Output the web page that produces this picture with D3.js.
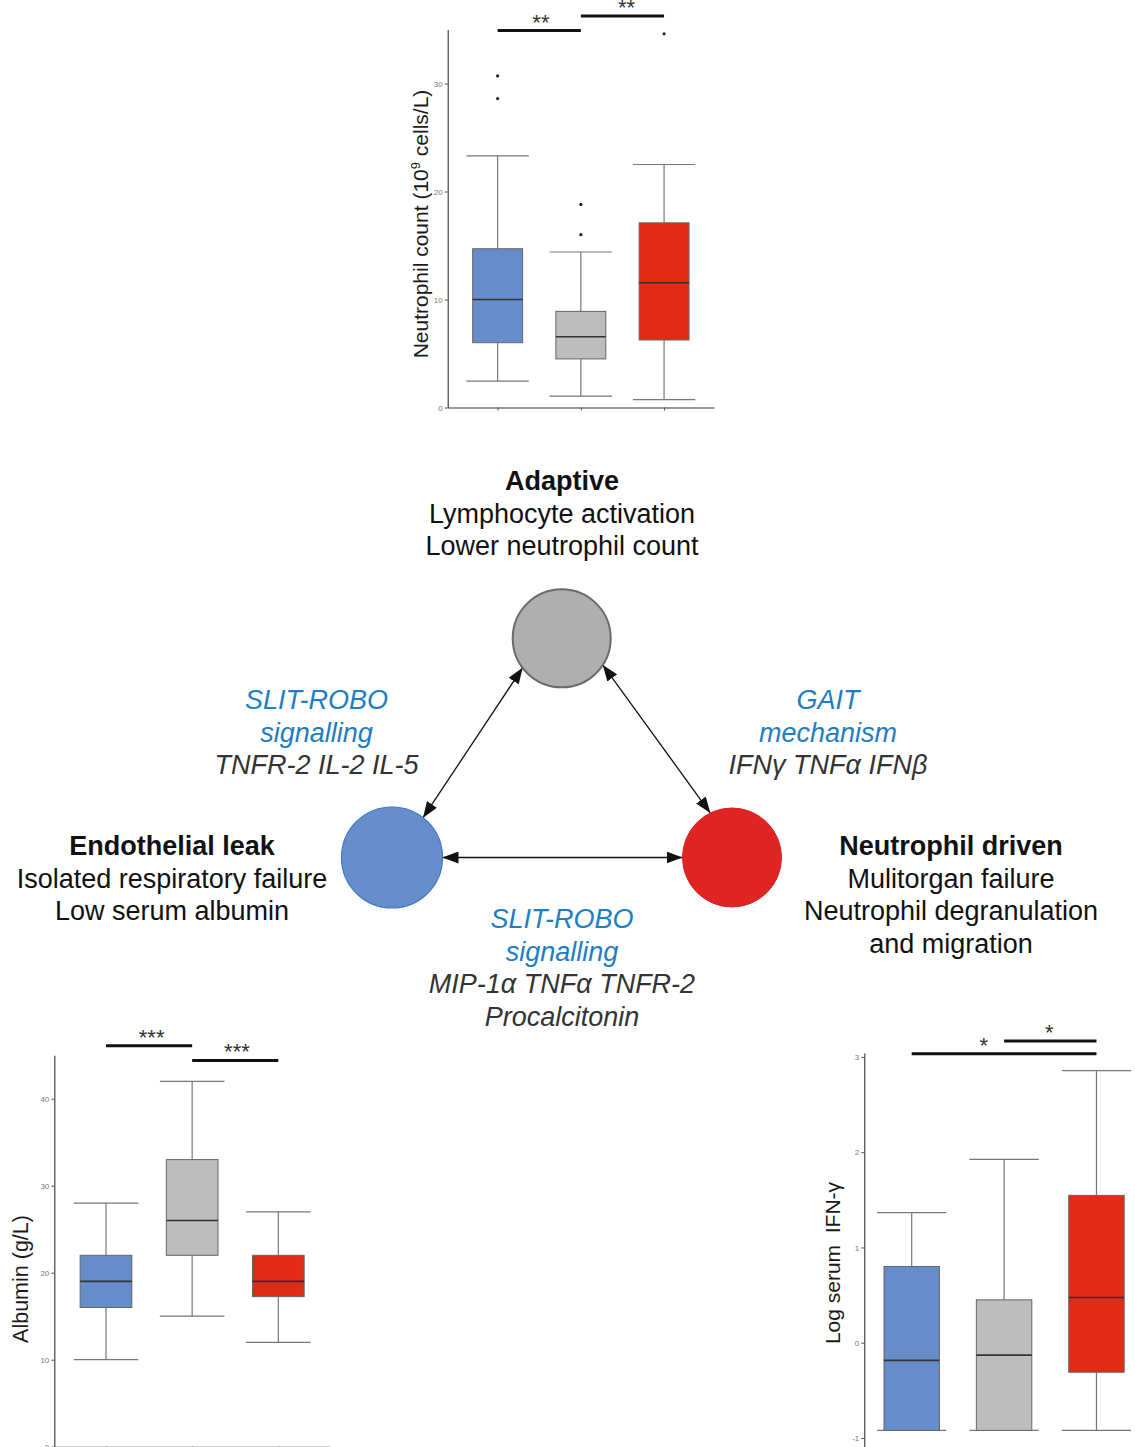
<!DOCTYPE html>
<html>
<head>
<meta charset="utf-8">
<script src="https://cdn.jsdelivr.net/npm/d3@7/dist/d3.min.js"></script>
<style>
  html, body { margin: 0; padding: 0; background: #fff; }
  svg { display: block; }
</style>
</head>
<body>
<div id="chart"></div>
<script>
// ── data ────────────────────────────────────────────────────────────────────
const groups = ['Endothelial leak', 'Adaptive', 'Neutrophil driven'];
const boxColors = ['#668dca', '#bdbdbd', '#e22b15'];

// box stats per group: [whiskerLow, q1, median, q3, whiskerHigh]
const neutroBoxes = [[2.45, 6.0, 10.0, 14.7, 23.3], [1.05, 4.5, 6.55, 8.9, 14.4], [0.72, 6.25, 11.55, 17.1, 22.5]];
const neutroOutliers = [[1, 30.7], [1, 28.6], [2, 18.8], [2, 16.0], [3, 34.6]];
const neutroTicks = [0, 10, 20, 30];
const neutroSig = [
  { from: 1, to: 2, y: 34.9, label: '**', lx: 1.52 },
  { from: 2, to: 3, y: 36.25, label: '**', lx: 2.55 },
];

const albBoxes = [[10, 16, 19, 22, 28], [15, 22, 26, 33, 42], [12, 17.25, 19, 22, 27]];
const albTicks = [0, 10, 20, 30, 40];
const albSig = [
  { from: 1, to: 2, y: 46.1, label: '***', lx: 1.53 },
  { from: 2, to: 3, y: 44.4, label: '***', lx: 2.52 },
];

const ifnBoxes = [[-0.92, -0.92, -0.185, 0.8, 1.365], [-0.92, -0.92, -0.13, 0.45, 1.925], [-0.92, -0.31, 0.475, 1.547, 2.855]];
const ifnTicks = [-1, 0, 1, 2, 3];
const ifnSig = [
  { from: 1, to: 3, y: 3.034, label: '*', lx: 1.78 },
  { from: 2, to: 3, y: 3.167, label: '*', lx: 2.49 },
];

// diagram
const nodes = [
  { id: 'adaptive', cx: 561.7, cy: 638.3, r: 49, fill: '#afafaf', stroke: '#6a6a6a', sw: 2 },
  { id: 'endo', cx: 392, cy: 857.5, r: 50.5, fill: '#678ecb', stroke: '#3d7bc6', sw: 1.2 },
  { id: 'neutro', cx: 732, cy: 857.5, r: 49.5, fill: '#e02424', stroke: '#d82020', sw: 1 },
];
// edges: endpoints given as angle (deg) on each node's rim
const edges = [
  { a: 'endo', aa: -52, b: 'adaptive', ba: 143 },
  { a: 'adaptive', aa: 33, b: 'neutro', ba: -116 },
  { a: 'endo', aa: 0, b: 'neutro', ba: 180 },
];

const FONT = '"Liberation Sans", Arial, Helvetica, sans-serif';
const BLUE_TXT = '#1f7dc2';
const DARK_TXT = '#333';

const labelBlocks = [
  { x: 562, y: 490, lines: [
    { t: 'Adaptive', bold: true }, { t: 'Lymphocyte activation' }, { t: 'Lower neutrophil count' }] },
  { x: 172, y: 855, lines: [
    { t: 'Endothelial leak', bold: true }, { t: 'Isolated respiratory failure' }, { t: 'Low serum albumin' }] },
  { x: 951, y: 855, lines: [
    { t: 'Neutrophil driven', bold: true }, { t: 'Mulitorgan failure' }, { t: 'Neutrophil degranulation' }, { t: 'and migration' }] },
  { x: 316.5, y: 709, lines: [
    { t: 'SLIT-ROBO', it: true, c: BLUE_TXT }, { t: 'signalling', it: true, c: BLUE_TXT }, { t: 'TNFR-2 IL-2 IL-5', it: true, c: DARK_TXT }] },
  { x: 828, y: 709, lines: [
    { t: 'GAIT', it: true, c: BLUE_TXT }, { t: 'mechanism', it: true, c: BLUE_TXT }, { t: 'IFNγ TNFα IFNβ', it: true, c: DARK_TXT }] },
  { x: 562, y: 928, lines: [
    { t: 'SLIT-ROBO', it: true, c: BLUE_TXT }, { t: 'signalling', it: true, c: BLUE_TXT },
    { t: 'MIP-1α TNFα TNFR-2', it: true, c: DARK_TXT }, { t: 'Procalcitonin', it: true, c: DARK_TXT }] },
];

// ── svg ─────────────────────────────────────────────────────────────────────
const W = 1135, H = 1447;
const svg = d3.select('#chart').append('svg').attr('width', W).attr('height', H);
svg.append('rect').attr('width', W).attr('height', H).attr('fill', '#fff');

// ── box plot panel ──────────────────────────────────────────────────────────
function boxPanel(opt) {
  const x = d3.scaleLinear().domain(opt.xDomain).range(opt.xRange);
  const y = d3.scaleLinear().domain(opt.yDomain).range(opt.yRange);
  const unit = x(2) - x(1);
  const g = svg.append('g');

  // y axis
  const ya = g.append('g')
    .attr('transform', `translate(${opt.xRange[0]},0)`)
    .call(d3.axisLeft(y).tickValues(opt.ticks).tickSize(3).tickSizeOuter(0).tickPadding(2)
      .tickFormat((d) => String(d)));
  ya.select('.domain').attr('stroke', '#333').attr('stroke-width', 1.1);
  ya.selectAll('.tick line').attr('stroke', '#555');
  ya.selectAll('.tick text').attr('fill', '#777').attr('font-size', '8px').attr('font-family', FONT);

  // x axis (no labels)
  if (opt.xAxis) {
    const xa = g.append('g')
      .attr('transform', `translate(0,${opt.yRange[0]})`)
      .call(d3.axisBottom(x).tickValues([1, 2, 3]).tickSize(3).tickSizeOuter(0).tickFormat(''));
    xa.select('.domain').attr('stroke', '#333').attr('stroke-width', 1.1);
    xa.selectAll('.tick line').attr('stroke', '#555');
  }

  // axis title
  const title = g.append('text')
    .attr('transform', `translate(${opt.titleX},${opt.titleY}) rotate(-90)`)
    .attr('text-anchor', 'middle')
    .attr('font-family', FONT)
    .attr('font-size', opt.titleSize)
    .attr('fill', '#1a1a1a')
    .style('white-space', 'pre');
  opt.title(title);

  opt.boxes.forEach((b, i) => {
    const cx = x(i + 1);
    const [lo, q1, med, q3, hi] = b;
    const bw = 0.6 * unit, cw = 0.75 * unit;
    // whisker
    g.append('line').attr('x1', cx).attr('x2', cx).attr('y1', y(lo)).attr('y2', y(hi))
      .attr('stroke', '#777').attr('stroke-width', 1.2);
    [lo, hi].forEach((v) => {
      g.append('line').attr('x1', cx - cw / 2).attr('x2', cx + cw / 2).attr('y1', y(v)).attr('y2', y(v))
        .attr('stroke', '#777').attr('stroke-width', 1.2);
    });
    // box
    g.append('rect').attr('x', cx - bw / 2).attr('width', bw)
      .attr('y', y(q3)).attr('height', y(q1) - y(q3))
      .attr('fill', boxColors[i]).attr('stroke', '#666').attr('stroke-width', 1);
    g.append('line').attr('x1', cx - bw / 2).attr('x2', cx + bw / 2).attr('y1', y(med)).attr('y2', y(med))
      .attr('stroke', '#333').attr('stroke-width', 1.6);
  });

  (opt.outliers || []).forEach(([gi, v]) => {
    g.append('circle').attr('cx', x(gi)).attr('cy', y(v)).attr('r', 1.6).attr('fill', '#222');
  });

  opt.sig.forEach((s) => {
    g.append('line').attr('x1', x(s.from)).attr('x2', x(s.to)).attr('y1', y(s.y)).attr('y2', y(s.y))
      .attr('stroke', '#111').attr('stroke-width', 3);
    g.append('text').attr('x', x(s.lx)).attr('y', y(s.y) - 1)
      .attr('text-anchor', 'middle').attr('font-family', FONT).attr('font-size', '22px')
      .attr('fill', '#333').text(s.label);
  });
}

boxPanel({
  xDomain: [0.4, 3.6], xRange: [447.7, 714],
  yDomain: [0, 35], yRange: [407.5, 29.5],
  ticks: neutroTicks, boxes: neutroBoxes, outliers: neutroOutliers, sig: neutroSig, xAxis: true,
  titleX: 428, titleY: 224, titleSize: '21px',
  title: (t) => {
    t.append('tspan').text('Neutrophil count (10');
    t.append('tspan').attr('font-size', '13px').attr('dy', -8).text('9');
    t.append('tspan').attr('dy', 8).text(' cells/L)');
  },
});

boxPanel({
  xDomain: [0.4, 3.6], xRange: [54.3, 330],
  yDomain: [0, 45], yRange: [1446.7, 1055.2],
  ticks: albTicks, boxes: albBoxes, sig: albSig, xAxis: true,
  titleX: 28, titleY: 1279, titleSize: '21.5px',
  title: (t) => t.text('Albumin (g/L)'),
});

boxPanel({
  xDomain: [0.487, 3.6], xRange: [864.3, 1151.9],
  yDomain: [-1.1, 3.04], yRange: [1447.5, 1053.1],
  ticks: ifnTicks, boxes: ifnBoxes, sig: ifnSig, xAxis: false,
  titleX: 840, titleY: 1263, titleSize: '21px',
  title: (t) => t.text('Log serum  IFN-γ'),
});

// ── diagram ─────────────────────────────────────────────────────────────────
const defs = svg.append('defs');
['start', 'end'].forEach((k) => {
  defs.append('marker')
    .attr('id', `arrow-${k}`)
    .attr('viewBox', '0 0 16 12')
    .attr('refX', k === 'end' ? 16 : 0).attr('refY', 6)
    .attr('markerWidth', 16).attr('markerHeight', 12)
    .attr('markerUnits', 'userSpaceOnUse')
    .attr('orient', 'auto')
    .append('path')
    .attr('d', k === 'end' ? 'M0,0 L16,6 L0,12 Z' : 'M16,0 L0,6 L16,12 Z')
    .attr('fill', '#111');
});

const byId = Object.fromEntries(nodes.map((n) => [n.id, n]));
const rim = (n, deg) => [n.cx + n.r * Math.cos((deg * Math.PI) / 180), n.cy + n.r * Math.sin((deg * Math.PI) / 180)];

edges.forEach((e) => {
  const [x1, y1] = rim(byId[e.a], e.aa);
  const [x2, y2] = rim(byId[e.b], e.ba);
  svg.append('line')
    .attr('x1', x1).attr('y1', y1).attr('x2', x2).attr('y2', y2)
    .attr('stroke', '#111').attr('stroke-width', 1.3)
    .attr('marker-start', 'url(#arrow-start)')
    .attr('marker-end', 'url(#arrow-end)');
});

svg.selectAll('circle.node')
  .data(nodes)
  .join('circle')
  .attr('class', 'node')
  .attr('cx', (d) => d.cx).attr('cy', (d) => d.cy).attr('r', (d) => d.r)
  .attr('fill', (d) => d.fill).attr('stroke', (d) => d.stroke).attr('stroke-width', (d) => d.sw);

// ── text blocks ─────────────────────────────────────────────────────────────
const LINE_H = 32.6;
labelBlocks.forEach((b) => {
  b.lines.forEach((l, i) => {
    svg.append('text')
      .attr('x', b.x).attr('y', b.y + i * LINE_H)
      .attr('text-anchor', 'middle')
      .attr('font-family', FONT)
      .attr('font-size', '27px')
      .attr('font-weight', l.bold ? 'bold' : 'normal')
      .attr('font-style', l.it ? 'italic' : 'normal')
      .attr('fill', l.c || '#111')
      .text(l.t);
  });
});
</script>
</body>
</html>
